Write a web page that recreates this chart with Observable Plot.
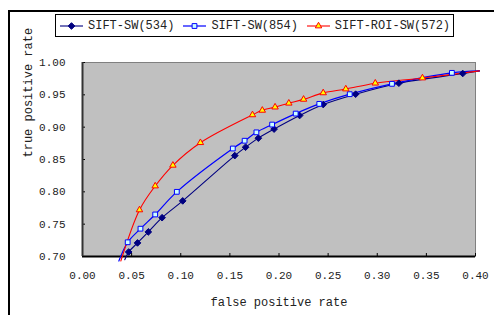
<!DOCTYPE html>
<html>
<head>
<meta charset="utf-8">
<script src="https://cdn.jsdelivr.net/npm/d3@7"></script>
<script src="https://cdn.jsdelivr.net/npm/@observablehq/plot@0.6"></script>
<style>
  html, body { margin: 0; padding: 0; background: #fff; }
  #wrap { position: relative; width: 494px; height: 315px; overflow: hidden; font-family: "Liberation Mono", monospace; }
  #frame { position: absolute; left: 8px; top: 10px; width: 600px; height: 400px; border: 2px solid #000; box-sizing: border-box; }
  #chart { position: absolute; left: 0; top: 0; }
  #legend { position: absolute; left: 55px; top: 14px; width: 399px; height: 23px; box-sizing: border-box;
            border: 1px solid #000; background: #fff; display: flex; align-items: center; padding-left: 4px; gap: 9px;
            font-size: 12px; color: #222; }
  .item { display: flex; align-items: center; gap: 5px; white-space: nowrap; }
  .item svg { display: block; }
</style>
</head>
<body>
<div id="wrap">
  <div id="frame"></div>
  <div id="chart"></div>
  <div id="legend"></div>
</div>
<script>
// ---- data ----
const seriesNames = ["SIFT-SW(534)", "SIFT-SW(854)", "SIFT-ROI-SW(572)"];

const fpr534 = [0.043, 0.047, 0.056, 0.067, 0.081, 0.102, 0.155, 0.166, 0.179, 0.195, 0.221, 0.245, 0.278, 0.322, 0.387, 0.404];
const tpr534 = [0.695, 0.707, 0.721, 0.738, 0.760, 0.786, 0.856, 0.869, 0.883, 0.897, 0.918, 0.935, 0.951, 0.968, 0.983, 0.987];

const fpr854 = [0.037, 0.046, 0.059, 0.074, 0.096, 0.153, 0.165, 0.177, 0.193, 0.217, 0.241, 0.272, 0.315, 0.376, 0.404];
const tpr854 = [0.693, 0.722, 0.743, 0.765, 0.800, 0.867, 0.879, 0.892, 0.904, 0.921, 0.936, 0.951, 0.967, 0.984, 0.987];

const fpr572 = [0.039, 0.058, 0.074, 0.092, 0.120, 0.173, 0.183, 0.196, 0.210, 0.225, 0.245, 0.268, 0.298, 0.346, 0.404];
const tpr572 = [0.693, 0.772, 0.809, 0.841, 0.876, 0.919, 0.926, 0.931, 0.937, 0.943, 0.953, 0.959, 0.968, 0.976, 0.987];

const xTicks = [0, 0.05, 0.10, 0.15, 0.20, 0.25, 0.30, 0.35, 0.40];
const yTicks = [0.70, 0.75, 0.80, 0.85, 0.90, 0.95, 1.00];
const xTitle = "false positive rate";
const yTitle = "true positive rate";

// ---- build ----
const toRows = (xs, ys) => xs.map((x, i) => ({x, y: ys[i], i, n: xs.length}));
const s534 = toRows(fpr534, tpr534);
const s854 = toRows(fpr854, tpr854);
const s572 = toRows(fpr572, tpr572);
// first and last points are off-axis line ends (no markers shown there)
const inner = d => d.i > 0 && d.i < d.n - 1;

const styles = [
  {line: "#000080", width: 1.1, symbol: "diamond2", r: 3, fill: "#000080", stroke: "#000080"},
  {line: "#0000ff", width: 1.2, symbol: "square", r: 2.7, fill: "#ccffff", stroke: "#0000ff"},
  {line: "#ff0000", width: 1.1, symbol: "triangle", r: 2.4, fill: "#ffff00", stroke: "#ff0000"}
];
const sets = [s534, s854, s572];

const marks = [
  Plot.frame({fill: "#c0c0c0", stroke: "#808080"}),
  Plot.ruleX(xTicks, {x: d => d, y1: 0.70, y2: 0.70, insetTop: -3, stroke: "#000"}),
  Plot.ruleY(yTicks, {y: d => d, x1: 0, x2: 0, insetRight: -3, stroke: "#000"}),
  Plot.ruleY([0.70], {stroke: "#000", strokeWidth: 2}),
  Plot.ruleX([0], {stroke: "#333", strokeWidth: 2}),
  Plot.axisX({ticks: xTicks, tickSize: 0, tickPadding: 15, tickFormat: d3.format(".2f"), label: null, fontSize: 11, fill: "#222"}),
  Plot.axisY({ticks: yTicks, tickSize: 0, tickPadding: 17, tickFormat: d3.format(".2f"), label: null, fontSize: 11, fill: "#222"}),
  Plot.text([xTitle], {frameAnchor: "bottom", dy: 46, text: d => d, fontSize: 12, fill: "#222", lineAnchor: "middle"}),
  Plot.text([yTitle], {frameAnchor: "left", dx: -54, dy: -2, rotate: -90, text: d => d, fontSize: 12, fill: "#222", lineAnchor: "middle", style: "letter-spacing:1.1px"})
];
sets.forEach((s, k) => {
  const st = styles[k];
  marks.push(Plot.line(s, {x: "x", y: "y", stroke: st.line, strokeWidth: st.width, curve: "catmull-rom"}));
});
sets.forEach((s, k) => {
  const st = styles[k];
  marks.push(Plot.dot(s, {filter: inner, x: "x", y: "y", symbol: () => st.symbol, r: st.r, fill: st.fill, stroke: st.stroke, strokeWidth: 1}));
});

const chart = Plot.plot({
  width: 494,
  height: 315,
  marginLeft: 82,
  marginRight: 19,
  marginTop: 62,
  marginBottom: 59,
  x: {domain: [0, 0.40]},
  y: {domain: [0.70, 1.00]},
  symbol: {type: "identity"},
  style: {fontFamily: "Liberation Mono, monospace", fontSize: "11px", background: "transparent", overflow: "visible"},
  marks
});
document.getElementById("chart").appendChild(chart);

// ---- legend ----
const legend = d3.select("#legend");
const symTypes = {diamond2: d3.symbolDiamond2, square: d3.symbolSquare, triangle: d3.symbolTriangle};
seriesNames.forEach((name, k) => {
  const st = styles[k];
  const item = legend.append("div").attr("class", "item");
  const svg = item.append("svg").attr("width", 23).attr("height", 10);
  svg.append("line").attr("x1", 0).attr("x2", 23).attr("y1", 5).attr("y2", 5)
    .attr("stroke", st.line).attr("stroke-width", st.width);
  svg.append("path").attr("transform", "translate(11.5,5)")
    .attr("d", d3.symbol().type(symTypes[st.symbol]).size(Math.PI * st.r * st.r)())
    .attr("fill", st.fill).attr("stroke", st.stroke);
  item.append("span").text(name);
});
</script>
</body>
</html>
